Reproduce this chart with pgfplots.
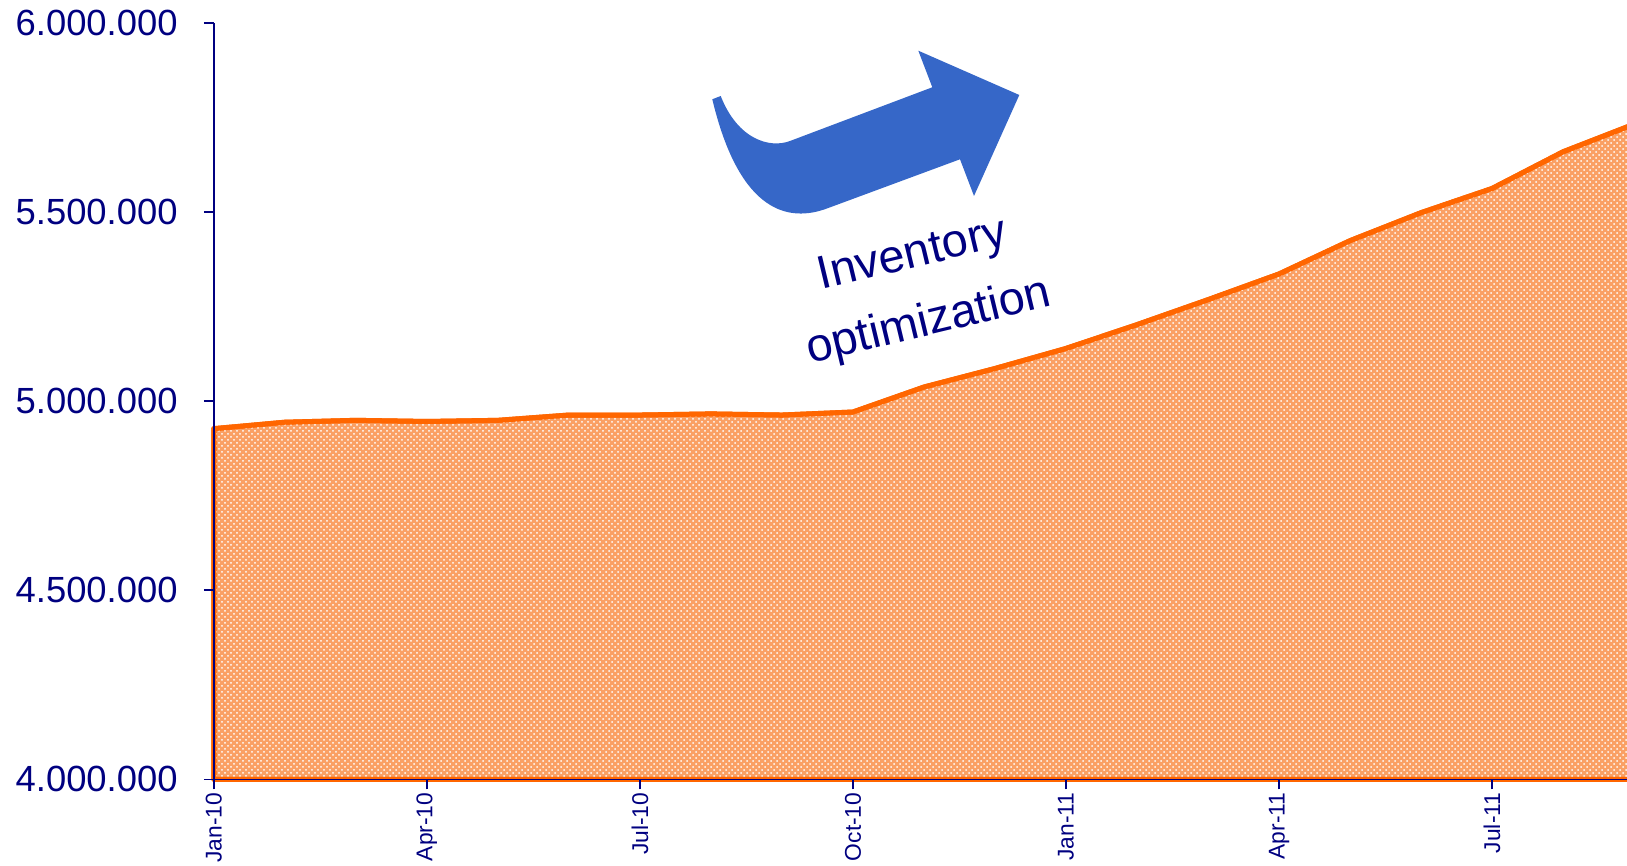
\documentclass[border=0pt]{standalone}
\usepackage{fontspec}
\setmainfont{Liberation Sans}
\usepackage{pgfplots}
\pgfplotsset{compat=1.18}
\usetikzlibrary{patterns}

\definecolor{navytxt}{RGB}{0,0,128}
\definecolor{lineorange}{RGB}{255,102,0}
\definecolor{areaorange}{RGB}{250,160,100}
\definecolor{arrowblue}{RGB}{54,103,200}

% monthly stock value, Jan-10 = 0 (first and last rows close the area on the baseline)
\pgfplotstableread{
x   y
0   4000000
0   4927000
1   4944000
2   4949000
3   4946000
4   4949000
5   4963000
6   4963000
7   4966000
8   4963000
9   4971000
10  5037000
11  5086000
12  5139000
13  5202000
14  5268000
15  5336000
16  5424000
17  5498000
18  5562000
19  5659000
20  5732000
20  4000000
}\stockdata

\begin{document}
\begin{tikzpicture}
\begin{axis}[
    at={(0,0)}, anchor=south west,
    scale only axis,
    width=706.6pt, height=378.25pt,
    xmin=0, xmax=19.9,
    ymin=4000000, ymax=6000000,
    clip=false,
    axis on top,
    axis x line*=bottom,
    axis y line*=left,
    axis line style={-, draw=navytxt, line width=0.75pt},
    tick style={draw=navytxt, line width=0.75pt},
    tick align=outside,
    major tick length=5pt,
    xtick={0,3,6,9,12,15,18},
    xticklabels={Jan-10,Apr-10,Jul-10,Oct-10,Jan-11,Apr-11,Jul-11},
    xticklabel style={rotate=90, anchor=east, inner sep=0pt,
                      font=\fontsize{11.4}{13}\selectfont, text=navytxt},
    xticklabel shift=1.5pt,
    ytick={4000000,4500000,5000000,5500000,6000000},
    yticklabels={4.000.000,4.500.000,5.000.000,5.500.000,6.000.000},
    yticklabel style={inner sep=0pt, font=\fontsize{18.2}{20}\selectfont, text=navytxt},
    yticklabel shift=12.9pt,
  ]
  \addplot[draw=lineorange, line width=2.5pt, line join=round, fill=areaorange,
           postaction={pattern=crosshatch dots, pattern color=white}]
    table[x=x, y=y] {\stockdata} -- cycle;
\end{axis}

% annotation arrow
\fill[arrowblue] (249.25pt,340pt) -- (253.45pt,341.65pt)
   .. controls (262.1pt,319.65pt) and (278.1pt,315.4pt) .. (288.1pt,319.15pt)
   -- (359.25pt,346pt) -- (352.25pt,364.3pt) -- (402.75pt,342.15pt)
   -- (380.1pt,291.65pt) -- (373.1pt,310pt) -- (306.45pt,285.35pt)
   .. controls (288.1pt,278.65pt) and (263.1pt,282.15pt) .. cycle;

\node[rotate=13.5, align=center, text=navytxt, font=\fontsize{23.4}{34.6}\selectfont]
  at (353.6pt,244.65pt) {Inventory\\optimization};

\pgfresetboundingbox
\useasboundingbox (-106.9pt,-43.35pt) rectangle (706.6pt,389.65pt);
\end{tikzpicture}
\end{document}
